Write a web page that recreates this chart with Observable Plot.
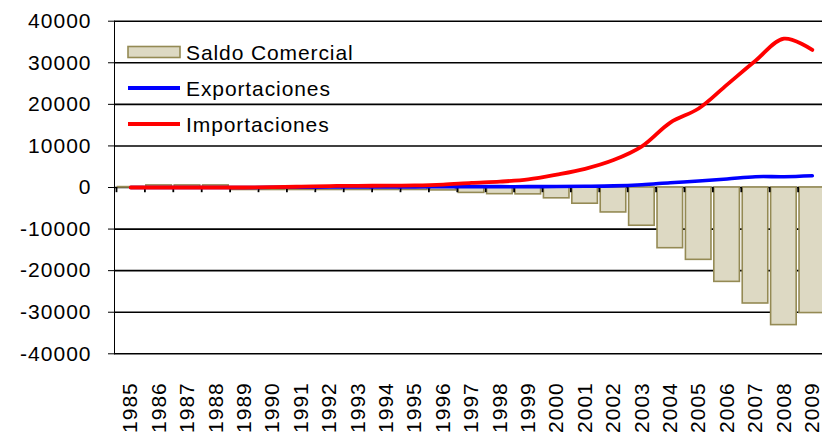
<!DOCTYPE html>
<html>
<head>
<meta charset="utf-8">
<script src="https://cdn.jsdelivr.net/npm/d3@7"></script>
<script src="https://cdn.jsdelivr.net/npm/@observablehq/plot@0.6"></script>
<style>
  html, body { margin: 0; padding: 0; background: #fff; overflow: hidden; }
  #wrap { position: relative; width: 822px; height: 435px; overflow: hidden; }
  #legend { position: absolute; left: 0; top: 0; pointer-events: none; }
</style>
</head>
<body>
<div id="wrap"></div>
<script>
// ---- data ----
const years = [1985,1986,1987,1988,1989,1990,1991,1992,1993,1994,1995,1996,1997,1998,1999,2000,2001,2002,2003,2004,2005,2006,2007,2008,2009];
const saldo = [100,500,500,500,-600,-600,-600,-600,-600,-600,-600,-700,-1300,-1600,-1650,-2600,-3900,-6000,-9200,-14600,-17400,-22700,-27900,-33100,-30200];
const exportaciones = [0,0,0,0,0,50,80,120,130,140,150,180,200,200,200,250,300,400,680,1150,1560,2040,2600,2600,2830];
const importaciones = [0,0,0,0,0,100,200,350,400,450,500,700,1100,1400,1950,3100,4500,6600,9900,15600,19000,24750,30500,35800,33100];
const seriesNames = ["Saldo Comercial", "Exportaciones", "Importaciones"];
const yTicks = [-40000,-30000,-20000,-10000,0,10000,20000,30000,40000];

const rows = years.map((year, i) => ({year, saldo: saldo[i], exp: exportaciones[i], imp: importaciones[i]}));
const boundaries = years.map(y => y - 0.5);

const BAR_FILL = "#ddd9c3", BAR_STROKE = "#948a54";

const chart = Plot.plot({
  width: 822,
  height: 435,
  marginLeft: 114,
  marginRight: 0,
  marginTop: 20.7,
  marginBottom: 81.7,
  style: {fontFamily: "'Liberation Sans', Arial, sans-serif", fontSize: "21px", color: "#000", background: "#fff", letterSpacing: "1px"},
  x: {domain: [1985, 2009], range: [130.2, 811.8], axis: null},
  y: {domain: [-40000, 40000], ticks: yTicks, tickFormat: d => String(d), tickSize: 6, tickPadding: 17, line: true, label: null},
  marks: [
    Plot.ruleY(yTicks, {stroke: "#000", strokeWidth: 1.6}),
    Plot.rect(rows, {x1: d => d.year - 0.45, x2: d => d.year + 0.45, y1: 0, y2: "saldo", fill: BAR_FILL, stroke: BAR_STROKE, strokeWidth: 1.6}),
    Plot.ruleX(boundaries, {x: d => d, y1: 0, y2: -1250, stroke: "#000", strokeWidth: 1.8}),
    Plot.line(rows, {x: "year", y: "exp", stroke: "#0000ff", strokeWidth: 3.6, curve: "catmull-rom"}),
    Plot.line(rows, {x: "year", y: "imp", stroke: "#ff0000", strokeWidth: 3.8, curve: "catmull-rom"}),
    Plot.text(years, {x: d => d, frameAnchor: "bottom", text: d => String(d), rotate: -90, textAnchor: "end", lineAnchor: "middle", dy: 28.4, fontSize: 21})
  ]
});
document.getElementById("wrap").appendChild(chart);

// ---- legend (inside plot area, top-left) ----
const ns = "http://www.w3.org/2000/svg";
const leg = document.createElementNS(ns, "svg");
leg.setAttribute("id", "legend");
leg.setAttribute("width", 822);
leg.setAttribute("height", 435);
const rowsY = [52, 88, 124];
seriesNames.forEach((name, i) => {
  const cy = rowsY[i];
  if (i === 0) {
    const r = document.createElementNS(ns, "rect");
    r.setAttribute("x", 128); r.setAttribute("y", cy - 5.5);
    r.setAttribute("width", 52); r.setAttribute("height", 11);
    r.setAttribute("fill", BAR_FILL); r.setAttribute("stroke", BAR_STROKE); r.setAttribute("stroke-width", 1.6);
    leg.appendChild(r);
  } else {
    const l = document.createElementNS(ns, "line");
    l.setAttribute("x1", 128); l.setAttribute("x2", 180);
    l.setAttribute("y1", cy); l.setAttribute("y2", cy);
    l.setAttribute("stroke", i === 1 ? "#0000ff" : "#ff0000");
    l.setAttribute("stroke-width", 3.8);
    leg.appendChild(l);
  }
  const t = document.createElementNS(ns, "text");
  t.setAttribute("x", 186); t.setAttribute("y", cy + 7.7);
  t.setAttribute("font-family", "'Liberation Sans', Arial, sans-serif");
  t.setAttribute("font-size", 21);
  t.setAttribute("letter-spacing", "0.9px");
  t.setAttribute("fill", "#000");
  t.textContent = name;
  leg.appendChild(t);
});
document.getElementById("wrap").appendChild(leg);
</script>
</body>
</html>
